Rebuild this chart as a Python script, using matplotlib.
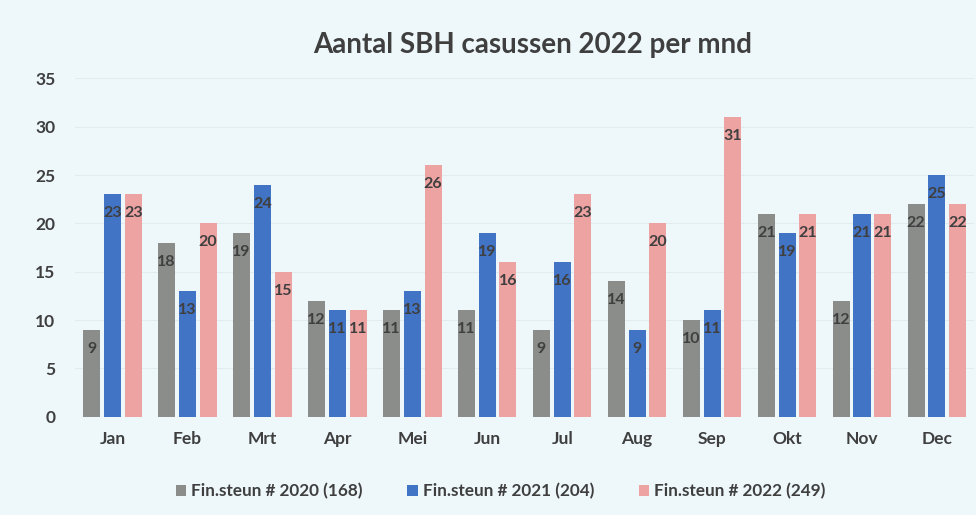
import numpy as np
import matplotlib.pyplot as plt

# data
months = ["Jan", "Feb", "Mrt", "Apr", "Mei", "Jun", "Jul", "Aug", "Sep", "Okt", "Nov", "Dec"]
fin_2020 = [9, 18, 19, 12, 11, 11, 9, 14, 10, 21, 12, 22]
fin_2021 = [23, 13, 24, 11, 13, 19, 16, 9, 11, 19, 21, 25]
fin_2022 = [23, 20, 15, 11, 26, 16, 23, 20, 31, 21, 21, 22]
series_names = ["Fin.steun # 2020 (168)", "Fin.steun # 2021 (204)", "Fin.steun # 2022 (249)"]
yticks = [0, 5, 10, 15, 20, 25, 30, 35]

## STYLE
bg          = "#eef8fb"
text_col    = "#3f3f3f"
colors      = ["#8b8d8b", "#4274c6", "#eea3a3"]
font        = ["Lato", "DejaVu Sans"]

plt.rcParams["font.family"] = font
plt.rcParams["font.weight"] = "bold"

fig = plt.figure(figsize=(9.76, 5.15), dpi=100, facecolor=bg)
ax = fig.add_axes([0.0768, 0.1909, 0.9216, 0.657])
ax.set_facecolor(bg)

x = np.arange(len(months))
width = 0.227
step = 0.277

for i, (vals, name, col) in enumerate(zip([fin_2020, fin_2021, fin_2022], series_names, colors)):
    pos = x + (i - 1) * step
    bars = ax.bar(pos, vals, width, color=col, label=name, zorder=3)
    for b, v in zip(bars, vals):
        ax.annotate(str(v), (b.get_x() + b.get_width() / 2, v),
                    xytext=(0, -19), textcoords="offset pixels",
                    ha="center", va="center", fontsize=11.5,
                    fontweight="bold", color=text_col, zorder=4)

ax.set_xlim(-0.5, len(months) - 0.5)
ax.set_ylim(0, 35)
ax.set_yticks(yticks)
ax.set_xticks(x)
ax.set_xticklabels(months)
ax.grid(axis="y", color="#e1ecef", linewidth=0.8, zorder=0)
for s in ax.spines.values():
    s.set_visible(False)
ax.tick_params(axis="both", length=0, labelsize=12.5, labelcolor=text_col)
ax.tick_params(axis="y", pad=14)
ax.tick_params(axis="x", pad=10)

fig.text(0.546, 0.912, "Aantal SBH casussen 2022 per mnd", ha="center", va="center",
         fontsize=20, fontweight="bold", color=text_col)

leg = fig.legend(loc="center", bbox_to_anchor=(0.513, 0.046), ncol=3, frameon=False,
                 fontsize=12.3, handlelength=0.6, handleheight=0.6, handletextpad=0.3,
                 columnspacing=2.6)
for t in leg.get_texts():
    t.set_color(text_col)

fig.savefig("out.png", dpi=100, facecolor=bg)
